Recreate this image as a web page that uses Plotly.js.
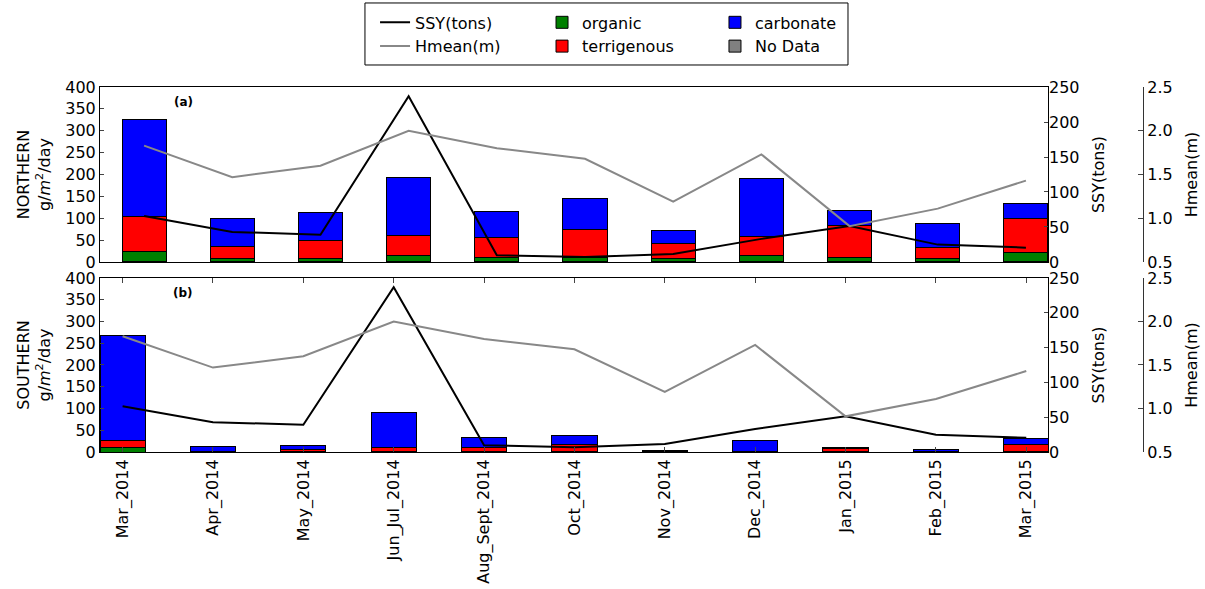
<!DOCTYPE html>
<html>
<head>
<meta charset="utf-8">
<script src="https://cdn.plot.ly/plotly-3.0.1.min.js"></script>
<style>html,body{margin:0;padding:0;background:#fff;}#chart{width:1205px;height:589px;}</style>
</head>
<body>
<div id="chart"></div>
<script>
const categories = ['Mar_2014','Apr_2014','May_2014','Jun_Jul_2014','Aug_Sept_2014','Oct_2014','Nov_2014','Dec_2014','Jan_2015','Feb_2015','Mar_2015'];
const northOrganic     = [23, 8, 8, 14, 10, 10, 8, 14, 11, 9, 21];
const northTerrigenous = [82, 27, 42, 46, 45, 65, 35, 44, 72, 25, 78];
const northCarbonate   = [220, 64, 62, 134, 60, 69, 29, 132, 34, 53, 34];
const southOrganic     = [11, 0.5, 1, 2, 1, 2, 0.5, 0.5, 1, 0.5, 1];
const southTerrigenous = [15, 1, 5, 8, 10, 16, 1, 1.5, 8, 0.5, 16];
const southCarbonate   = [242, 11.5, 10, 81, 23, 19, 1.5, 25, 2.5, 5, 14];
const noData           = [null, null, null, null, null, null, null, null, null, null, null];
const ssy   = [65.7, 42.9, 39, 236.7, 9.6, 7, 11.4, 33, 51.4, 24.8, 20.5];
const hmean = [1.83, 1.47, 1.6, 2.0, 1.8, 1.68, 1.19, 1.73, 0.91, 1.11, 1.43];

const FONT = 'DejaVu Sans, sans-serif';
const FS = 16;
const outline = {color: '#000', width: 1};

function bar(name, y, color, xa, ya, legend, show) {
  return {type: 'bar', name: name, x: categories, y: y, xaxis: xa, yaxis: ya,
    marker: {color: color, line: outline}, width: 0.5, legend: legend,
    legendgroup: name, showlegend: show, hoverinfo: 'y+name'};
}
function line(name, y, color, xa, ya, legend, show) {
  return {type: 'scatter', mode: 'lines', name: name, x: categories, y: y, xaxis: xa, yaxis: ya,
    line: {color: color, width: 2}, legend: legend, legendgroup: name, showlegend: show};
}

const traces = [
  bar('organic', northOrganic, '#008000', 'x', 'y', 'legend2', true),
  bar('terrigenous', northTerrigenous, '#ff0000', 'x', 'y', 'legend2', true),
  bar('carbonate', northCarbonate, '#0000ff', 'x', 'y', 'legend3', true),
  bar('No Data', noData, '#808080', 'x', 'y', 'legend3', true),
  bar('organic', southOrganic, '#008000', 'x2', 'y2', 'legend2', false),
  bar('terrigenous', southTerrigenous, '#ff0000', 'x2', 'y2', 'legend2', false),
  bar('carbonate', southCarbonate, '#0000ff', 'x2', 'y2', 'legend3', false),
  line('SSY(tons)', ssy, '#000000', 'x', 'y3', 'legend', true),
  line('Hmean(m)', hmean, '#888888', 'x', 'y4', 'legend', true),
  line('SSY(tons)', ssy, '#000000', 'x2', 'y5', 'legend', false),
  line('Hmean(m)', hmean, '#888888', 'x2', 'y6', 'legend', false)
];

const XD = 0.8737;
const HPOS = 0.9613;
const topDom = [0.4204, 0.8075];
const botDom = [0, 0.3850];

const tickF = {family: FONT, size: FS, color: '#000'};
const leftY = (dom, anchor, title) => ({
  domain: dom, anchor: anchor, range: [0, 400], dtick: 50, ticks: 'inside', ticklen: 4,
  showline: true, linecolor: '#000', linewidth: 1, mirror: true, showgrid: false, zeroline: false,
  tickfont: tickF, automargin: false,
  title: {text: title, font: {family: FONT, size: FS, color: '#000'}, standoff: 10}
});
const ssyY = (over, anchor) => ({
  overlaying: over, anchor: anchor, side: 'right', range: [0, 250], dtick: 50,
  ticks: 'inside', ticklen: 4, showgrid: false, zeroline: false, showline: false,
  tickfont: tickF, automargin: false,
  title: {text: 'SSY(tons)', font: {family: FONT, size: FS, color: '#000'}, standoff: 14}
});
const hY = (over) => ({
  overlaying: over, anchor: 'free', position: HPOS, side: 'right', range: [0.5, 2.5], dtick: 0.5,
  tickformat: '.1f', ticks: 'inside', ticklen: 5, showline: true, linecolor: '#333', linewidth: 1,
  showgrid: false, zeroline: false, tickfont: tickF, automargin: false,
  title: {text: 'Hmean(m)', font: {family: FONT, size: FS, color: '#000'}, standoff: 14}
});

const legendBase = {font: {family: FONT, size: FS, color: '#000'}, bgcolor: 'rgba(0,0,0,0)',
  borderwidth: 0, xanchor: 'left', yanchor: 'top', y: 0.988, orientation: 'v',
  traceorder: 'normal', tracegroupgap: 6, itemwidth: 30};

const layout = {
  width: 1205, height: 589,
  margin: {l: 100, r: 20, t: 0, b: 137},
  paper_bgcolor: '#fff', plot_bgcolor: '#fff',
  font: {family: FONT, size: FS, color: '#000'},
  barmode: 'stack', bargap: 0,
  xaxis: {domain: [0, XD], anchor: 'y', type: 'category', range: [-0.5, 10.25],
    showticklabels: false, ticks: '', showline: true, linecolor: '#000', mirror: true,
    showgrid: false, zeroline: false},
  xaxis2: {domain: [0, XD], anchor: 'y2', type: 'category', range: [-0.25, 10.24],
    ticks: 'inside', ticklen: 5, mirror: 'ticks', showline: true, linecolor: '#000',
    showgrid: false, zeroline: false, tickangle: -90, tickfont: tickF, automargin: false},
  yaxis: leftY(topDom, 'x', 'NORTHERN<br>g/<i>m</i><sup>2</sup>/day'),
  yaxis2: leftY(botDom, 'x2', 'SOUTHERN<br>g/<i>m</i><sup>2</sup>/day'),
  yaxis3: ssyY('y', 'x'),
  yaxis4: hY('y'),
  yaxis5: ssyY('y2', 'x2'),
  yaxis6: hY('y2'),
  legend: Object.assign({}, legendBase, {x: 0.2535}),
  legend2: Object.assign({}, legendBase, {x: 0.4074}),
  legend3: Object.assign({}, legendBase, {x: 0.5668}),
  shapes: [
    {type: 'rect', xref: 'paper', yref: 'paper', x0: 0.2442, x1: 0.6894, y0: 0.8562, y1: 0.9934,
      line: {color: '#000', width: 1}, fillcolor: 'rgba(0,0,0,0)'}
  ],
  annotations: [
    {text: '<b>(a)</b>', xref: 'paper', yref: 'paper', x: 0.0765, y: 0.7745, showarrow: false,
      xanchor: 'center', yanchor: 'middle', font: {family: FONT, size: 12, color: '#000'}},
    {text: '<b>(b)</b>', xref: 'paper', yref: 'paper', x: 0.0765, y: 0.352, showarrow: false,
      xanchor: 'center', yanchor: 'middle', font: {family: FONT, size: 12, color: '#000'}}
  ]
};

Plotly.newPlot('chart', traces, layout, {displayModeBar: false, staticPlot: true});
</script>
</body>
</html>
